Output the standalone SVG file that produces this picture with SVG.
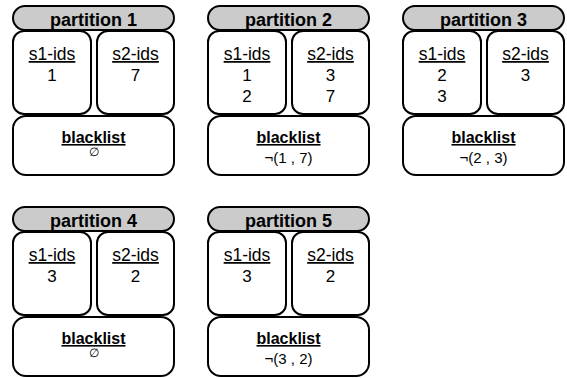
<svg xmlns="http://www.w3.org/2000/svg" width="567" height="378" viewBox="0 0 567 378">
<style>
.hdr{fill:#cbcbcb;stroke:#000;stroke-width:2}
.box{fill:#fff;stroke:#000;stroke-width:2}
text{font-family:"Liberation Sans",Arial,Helvetica,sans-serif;text-anchor:middle;fill:#000}
.title{font-size:18px;font-weight:bold}
.lbl{font-size:17.5px;text-decoration:underline}
.num{font-size:17px}
.bl{font-size:16px;font-weight:bold;text-decoration:underline}
.empty{font-size:12px}
.neg{font-size:15px}
</style>
<defs>
<g id="frame">
<rect class="hdr" x="1" y="1" width="161" height="24" rx="12" ry="12"/>
<rect class="box" x="1" y="26" width="78" height="83" rx="11" ry="11"/>
<rect class="box" x="85" y="26" width="77" height="83" rx="11" ry="11"/>
<rect class="box" x="1" y="111" width="161" height="59" rx="13" ry="13"/>
</g>
</defs>
<g id="partition1" transform="translate(12,5)">
<use href="#frame"/>
<text class="title" x="81.5" y="21">partition 1</text>
<text class="lbl" x="40" y="55">s1-ids</text>
<text class="lbl" x="123.5" y="55">s2-ids</text>
<text class="num" x="40" y="76">1</text>
<text class="num" x="123.5" y="76">7</text>
<text class="bl" x="81.5" y="138">blacklist</text>
<text class="empty" x="81.5" y="151">∅</text>
</g>
<g id="partition2" transform="translate(207,5)">
<use href="#frame"/>
<text class="title" x="81.5" y="21">partition 2</text>
<text class="lbl" x="40" y="55">s1-ids</text>
<text class="lbl" x="123.5" y="55">s2-ids</text>
<text class="num" x="40" y="76">1</text>
<text class="num" x="40" y="97">2</text>
<text class="num" x="123.5" y="76">3</text>
<text class="num" x="123.5" y="97">7</text>
<text class="bl" x="81.5" y="138">blacklist</text>
<text class="neg" x="81.5" y="158">¬(1 , 7)</text>
</g>
<g id="partition3" transform="translate(402,5)">
<use href="#frame"/>
<text class="title" x="81.5" y="21">partition 3</text>
<text class="lbl" x="40" y="55">s1-ids</text>
<text class="lbl" x="123.5" y="55">s2-ids</text>
<text class="num" x="40" y="76">2</text>
<text class="num" x="40" y="97">3</text>
<text class="num" x="123.5" y="76">3</text>
<text class="bl" x="81.5" y="138">blacklist</text>
<text class="neg" x="81.5" y="158">¬(2 , 3)</text>
</g>
<g id="partition4" transform="translate(12,206)">
<use href="#frame"/>
<text class="title" x="81.5" y="21">partition 4</text>
<text class="lbl" x="40" y="55">s1-ids</text>
<text class="lbl" x="123.5" y="55">s2-ids</text>
<text class="num" x="40" y="76">3</text>
<text class="num" x="123.5" y="76">2</text>
<text class="bl" x="81.5" y="138">blacklist</text>
<text class="empty" x="81.5" y="151">∅</text>
</g>
<g id="partition5" transform="translate(207,206)">
<use href="#frame"/>
<text class="title" x="81.5" y="21">partition 5</text>
<text class="lbl" x="40" y="55">s1-ids</text>
<text class="lbl" x="123.5" y="55">s2-ids</text>
<text class="num" x="40" y="76">3</text>
<text class="num" x="123.5" y="76">2</text>
<text class="bl" x="81.5" y="138">blacklist</text>
<text class="neg" x="81.5" y="158">¬(3 , 2)</text>
</g>
<g id="connectors"/>
</svg>
